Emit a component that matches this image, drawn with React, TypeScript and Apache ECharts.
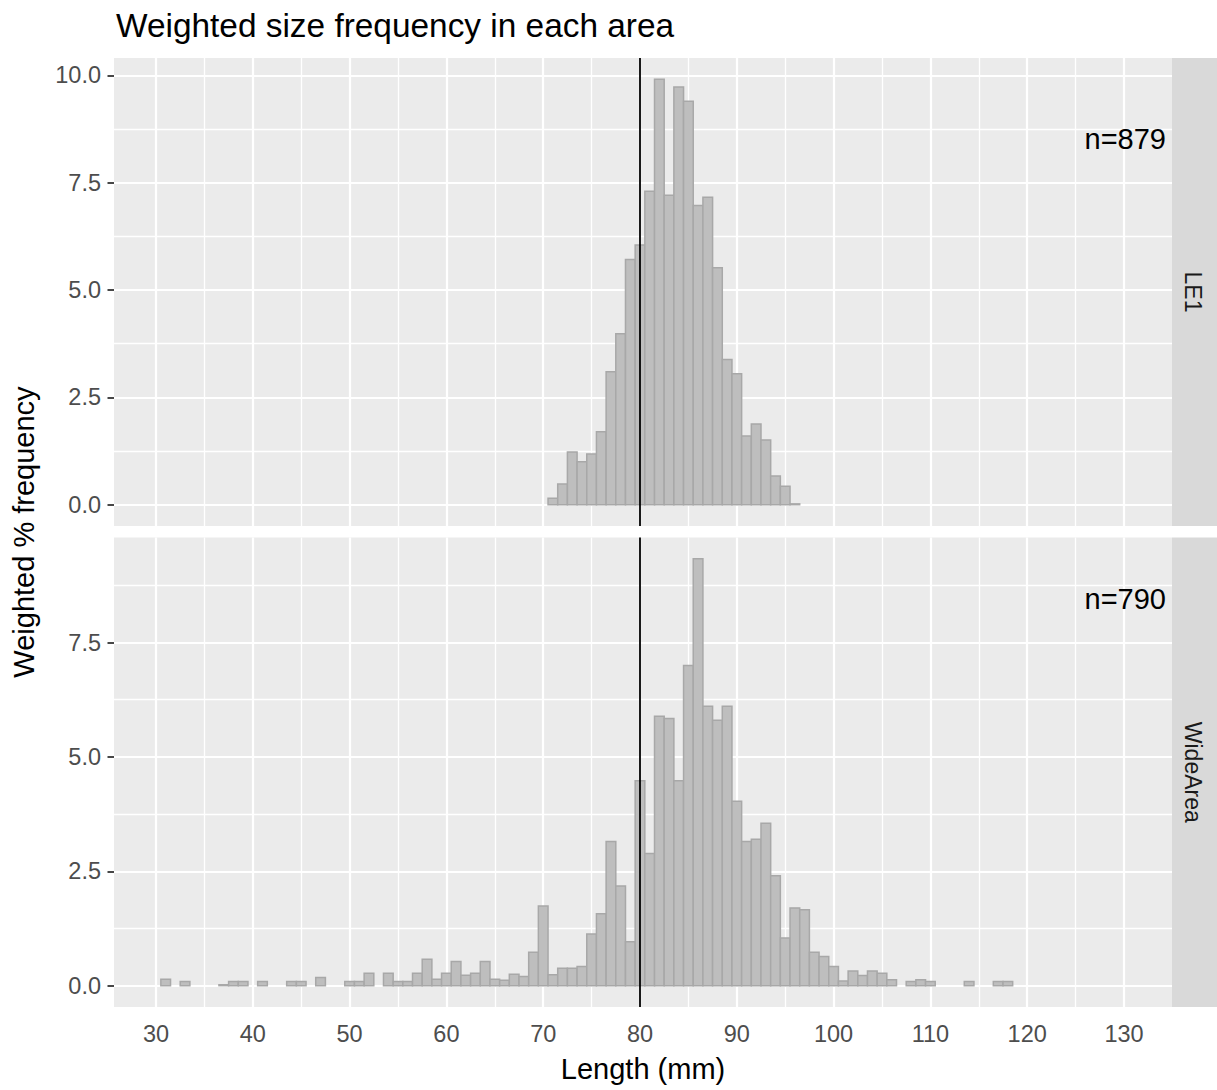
import React, { useEffect, useRef } from "react";
import * as echarts from "echarts";

// ---- data ----
const titleText = "Weighted size frequency in each area";
const xTitle = "Length (mm)";
const yTitle = "Weighted % frequency";
const panelNames = ["LE1", "WideArea"];
const panelCounts = ["n=879", "n=790"];

const le1Lengths = [71, 72, 73, 74, 75, 76, 77, 78, 79, 80, 81, 82, 83, 84, 85, 86, 87, 88, 89, 90, 91, 92, 93, 94, 95, 96];
const le1Values = [0.15, 0.48, 1.23, 1.0, 1.18, 1.7, 3.1, 3.98, 5.71, 6.05, 7.3, 9.91, 7.21, 9.73, 9.4, 6.97, 7.16, 5.52, 3.38, 3.05, 1.6, 1.88, 1.51, 0.67, 0.43, 0.02];

const wideLengths = [31, 33, 37, 38, 39, 41, 44, 45, 47, 50, 51, 52, 54, 55, 56, 57, 58, 59, 60, 61, 62, 63, 64, 65, 66, 67, 68, 69, 70, 71, 72, 73, 74, 75, 76, 77, 78, 79, 80, 81, 82, 83, 84, 85, 86, 87, 88, 89, 90, 91, 92, 93, 94, 95, 96, 97, 98, 99, 100, 101, 102, 103, 104, 105, 106, 108, 109, 110, 114, 117, 118];
const wideValues = [0.14, 0.09, 0.02, 0.09, 0.09, 0.09, 0.09, 0.09, 0.18, 0.09, 0.09, 0.27, 0.27, 0.09, 0.09, 0.27, 0.58, 0.14, 0.27, 0.53, 0.23, 0.27, 0.53, 0.14, 0.12, 0.25, 0.2, 0.73, 1.74, 0.24, 0.38, 0.38, 0.42, 1.13, 1.57, 3.15, 2.18, 0.96, 4.48, 2.89, 5.89, 5.84, 4.48, 7.0, 9.33, 6.11, 5.8, 6.11, 4.03, 3.15, 3.2, 3.55, 2.4, 1.04, 1.7, 1.66, 0.73, 0.64, 0.42, 0.1, 0.32, 0.22, 0.32, 0.27, 0.13, 0.09, 0.13, 0.09, 0.09, 0.09, 0.09];

const xMajor = [30, 40, 50, 60, 70, 80, 90, 100, 110, 120, 130];
const xMinor = [35, 45, 55, 65, 75, 85, 95, 105, 115, 125];
const yMajorTop = [0, 2.5, 5, 7.5, 10];
const yMinorTop = [1.25, 3.75, 6.25, 8.75];
const yMajorBottom = [0, 2.5, 5, 7.5];
const yMinorBottom = [1.25, 3.75, 6.25, 8.75];
const refLine = 80;

const xRange = [25.66, 134.96];
const yRangeTop = [-0.4955, 10.4055];
const yRangeBottom = [-0.4665, 9.7965];

const FONT = "'Liberation Sans', Arial, Helvetica, sans-serif";

export default function App() {
  const ref = useRef<HTMLDivElement>(null);

  useEffect(() => {
    if (!ref.current) return;
    const chart = echarts.init(ref.current, null, { renderer: "svg" });

    const gridLeft = 114;
    const gridRight = 1172;
    const grids = [
      { left: gridLeft, top: 58, width: gridRight - gridLeft, height: 468 },
      { left: gridLeft, top: 537.5, width: gridRight - gridLeft, height: 469.5 },
    ];

    const gridLineSeries = (idx: number, yMaj: number[], yMin: number[]) => ({
      type: "line",
      xAxisIndex: idx,
      yAxisIndex: idx,
      data: [],
      z: 1,
      silent: true,
      markLine: {
        z: 1,
        silent: true,
        symbol: ["none", "none"],
        label: { show: false },
        animation: false,
        data: [
          ...xMinor.map((v) => ({ xAxis: v, lineStyle: { color: "#ffffff", width: 1.3, type: "solid" } })),
          ...yMin.map((v) => ({ yAxis: v, lineStyle: { color: "#ffffff", width: 1.3, type: "solid" } })),
          ...xMajor.map((v) => ({ xAxis: v, lineStyle: { color: "#ffffff", width: 2.2, type: "solid" } })),
          ...yMaj.map((v) => ({ yAxis: v, lineStyle: { color: "#ffffff", width: 2.2, type: "solid" } })),
        ],
      },
    });

    const barSeries = (idx: number, xs: number[], ys: number[]) => ({
      type: "custom",
      xAxisIndex: idx,
      yAxisIndex: idx,
      z: 3,
      silent: true,
      encode: { x: 0, y: 1 },
      data: xs.map((x, i) => [x, ys[i]]),
      renderItem: (params: any, api: any) => {
        const x = api.value(0);
        const y = api.value(1);
        const p0 = api.coord([x - 0.5, y]);
        const p1 = api.coord([x + 0.5, 0]);
        return {
          type: "rect",
          shape: { x: p0[0], y: p0[1], width: p1[0] - p0[0], height: p1[1] - p0[1] },
          style: { fill: "#bebebe", stroke: "#a8a8a8", lineWidth: 1.5 },
        };
      },
    });

    const refSeries = (idx: number) => ({
      type: "line",
      xAxisIndex: idx,
      yAxisIndex: idx,
      data: [],
      z: 10,
      silent: true,
      markLine: {
        z: 10,
        silent: true,
        symbol: ["none", "none"],
        label: { show: false },
        animation: false,
        data: [{ xAxis: refLine, lineStyle: { color: "#000000", width: 1.8, type: "solid" } }],
      },
    });

    const yAxisCommon = {
      type: "value",
      axisLine: { show: false },
      splitLine: { show: false },
      axisTick: { show: true, length: 6.5, lineStyle: { color: "#333333", width: 1.8 } },
    };

    const yLabel = (vals: number[]) => ({
      customValues: vals,
      color: "#4d4d4d",
      fontSize: 23.5,
      fontFamily: FONT,
      margin: 13,
      padding: [5, 0, 0, 0],
      formatter: (v: number) => v.toFixed(1),
    });

    const option: any = {
      animation: false,
      grid: grids.map((g) => ({
        ...g,
        show: true,
        backgroundColor: "#ebebeb",
        borderWidth: 0,
        borderColor: "transparent",
      })),
      xAxis: [
        {
          type: "value",
          gridIndex: 0,
          min: xRange[0],
          max: xRange[1],
          axisLine: { show: false },
          axisTick: { show: false },
          axisLabel: { show: false },
          splitLine: { show: false },
        },
        {
          type: "value",
          gridIndex: 1,
          min: xRange[0],
          max: xRange[1],
          axisLine: { show: false },
          splitLine: { show: false },
          axisTick: { show: true, customValues: xMajor, length: 6.5, lineStyle: { color: "#333333", width: 1.8 } },
          axisLabel: {
            customValues: xMajor,
            color: "#4d4d4d",
            fontSize: 23.5,
            fontFamily: FONT,
            margin: 15,
          },
        },
      ],
      yAxis: [
        {
          ...yAxisCommon,
          gridIndex: 0,
          min: yRangeTop[0],
          max: yRangeTop[1],
          axisTick: { ...yAxisCommon.axisTick, customValues: yMajorTop },
          axisLabel: yLabel(yMajorTop),
        },
        {
          ...yAxisCommon,
          gridIndex: 1,
          min: yRangeBottom[0],
          max: yRangeBottom[1],
          axisTick: { ...yAxisCommon.axisTick, customValues: yMajorBottom },
          axisLabel: yLabel(yMajorBottom),
        },
      ],
      series: [
        gridLineSeries(0, yMajorTop, yMinorTop),
        gridLineSeries(1, yMajorBottom, yMinorBottom),
        barSeries(0, le1Lengths, le1Values),
        barSeries(1, wideLengths, wideValues),
        refSeries(0),
        refSeries(1),
      ],
      graphic: [
        {
          type: "text",
          x: 116,
          y: 25,
          z: 100,
          style: { text: titleText, fontSize: 33.4, fontFamily: FONT, fill: "#000000", textAlign: "left", textVerticalAlign: "middle" },
        },
        {
          type: "text",
          x: 643,
          y: 1069,
          z: 100,
          style: { text: xTitle, fontSize: 29, fontFamily: FONT, fill: "#000000", textAlign: "center", textVerticalAlign: "middle" },
        },
        {
          type: "text",
          x: 24,
          y: 532,
          z: 100,
          rotation: Math.PI / 2,
          style: { text: yTitle, fontSize: 29, fontFamily: FONT, fill: "#000000", textAlign: "center", textVerticalAlign: "middle" },
        },
        // strips
        ...grids.map((g) => ({
          type: "rect",
          z: 50,
          shape: { x: gridRight, y: g.top, width: 1217 - gridRight, height: g.height },
          style: { fill: "#d9d9d9" },
        })),
        ...grids.map((g, i) => ({
          type: "text",
          z: 100,
          x: 1193,
          y: g.top + g.height / 2,
          rotation: -Math.PI / 2,
          style: { text: panelNames[i], fontSize: 23, fontFamily: FONT, fill: "#1a1a1a", textAlign: "center", textVerticalAlign: "middle" },
        })),
        // n labels
        {
          type: "text",
          x: 1166,
          y: 139,
          z: 100,
          style: { text: panelCounts[0], fontSize: 29, fontFamily: FONT, fill: "#000000", textAlign: "right", textVerticalAlign: "middle" },
        },
        {
          type: "text",
          x: 1166,
          y: 598.5,
          z: 100,
          style: { text: panelCounts[1], fontSize: 29, fontFamily: FONT, fill: "#000000", textAlign: "right", textVerticalAlign: "middle" },
        },
      ],
    };

    chart.setOption(option);
    return () => chart.dispose();
  }, []);

  return (
    <div
      ref={ref}
      style={{ position: "fixed", left: 0, top: 0, width: 1217, height: 1090, background: "#ffffff" }}
    />
  );
}
